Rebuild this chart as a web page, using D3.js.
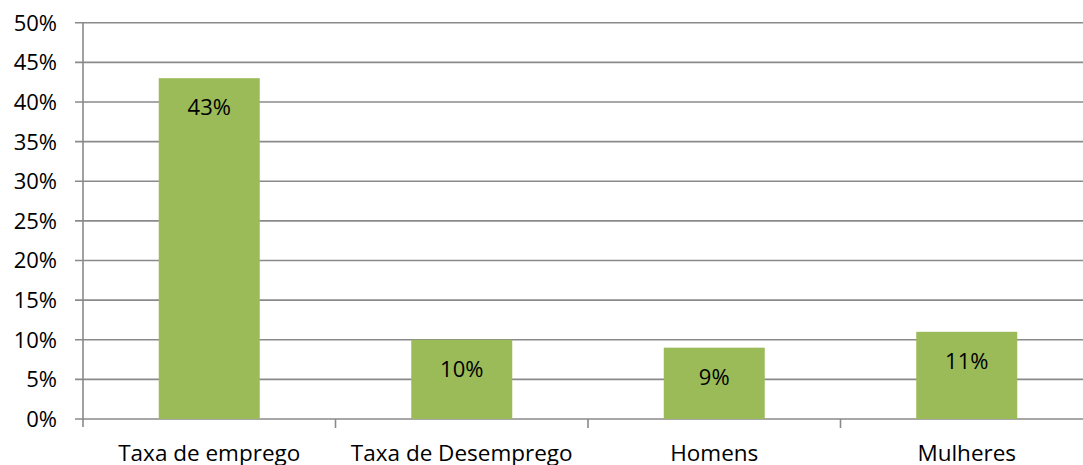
<!DOCTYPE html>
<html>
<head>
<meta charset="utf-8">
<script src="https://cdn.jsdelivr.net/npm/d3@7"></script>
<style>
  html, body { margin: 0; padding: 0; background: #fff; }
  svg { display: block; }
  text { font-family: "Open Sans", sans-serif; fill: #000; }
</style>
</head>
<body>
<svg id="chart" width="1083" height="465"></svg>
<script>
const categories = ["Taxa de emprego", "Taxa de Desemprego", "Homens", "Mulheres"];
const values = [0.43, 0.10, 0.09, 0.11];
const labels = ["43%", "10%", "9%", "11%"];
const yTicks = [0, 0.05, 0.10, 0.15, 0.20, 0.25, 0.30, 0.35, 0.40, 0.45, 0.50];

(function () {
const svg = d3.select("#chart");
const mLeft = 83, mRight = 1093, mTop = 22.7, mBottom = 419;
const gridColor = "#8a8a8a";

const x = d3.scaleBand().domain(categories).range([mLeft, mRight])
  .paddingInner(0.6).paddingOuter(0.3);
const y = d3.scaleLinear().domain([0, 0.5]).range([mBottom, mTop]);

svg.append("g").selectAll("line").data(yTicks).join("line")
  .attr("x1", mLeft - 8).attr("x2", mRight)
  .attr("y1", d => y(d)).attr("y2", d => y(d))
  .attr("stroke", gridColor).attr("stroke-width", 1.6);

svg.append("line").attr("x1", mLeft).attr("x2", mLeft)
  .attr("y1", mTop).attr("y2", mBottom + 8)
  .attr("stroke", gridColor).attr("stroke-width", 1.6);

svg.append("g").selectAll("text").data(yTicks).join("text")
  .attr("x", 57).attr("y", d => y(d)).attr("dy", "0.36em")
  .attr("text-anchor", "end").attr("font-size", 22)
  .text(d => d3.format(".0%")(d));

const step = x.step();
const bounds = d3.range(categories.length + 1).map(i => mLeft + i * step);
svg.append("g").selectAll("line").data(bounds.slice(1)).join("line")
  .attr("x1", d => d).attr("x2", d => d)
  .attr("y1", mBottom).attr("y2", mBottom + 9)
  .attr("stroke", gridColor).attr("stroke-width", 1.6);

svg.append("g").selectAll("rect").data(values).join("rect")
  .attr("x", (d, i) => x(categories[i]))
  .attr("width", x.bandwidth())
  .attr("y", d => y(d))
  .attr("height", d => mBottom - y(d))
  .attr("fill", "#9BBB59");

svg.append("g").selectAll("text").data(values).join("text")
  .attr("x", (d, i) => x(categories[i]) + x.bandwidth() / 2)
  .attr("y", d => y(d) + 29).attr("dy", "0.36em")
  .attr("text-anchor", "middle").attr("font-size", 22)
  .text((d, i) => labels[i]);

svg.append("g").selectAll("text").data(categories).join("text")
  .attr("x", d => x(d) + x.bandwidth() / 2)
  .attr("y", 461)
  .attr("text-anchor", "middle").attr("font-size", 22.5)
  .text(d => d);
})();
</script>
</body>
</html>
